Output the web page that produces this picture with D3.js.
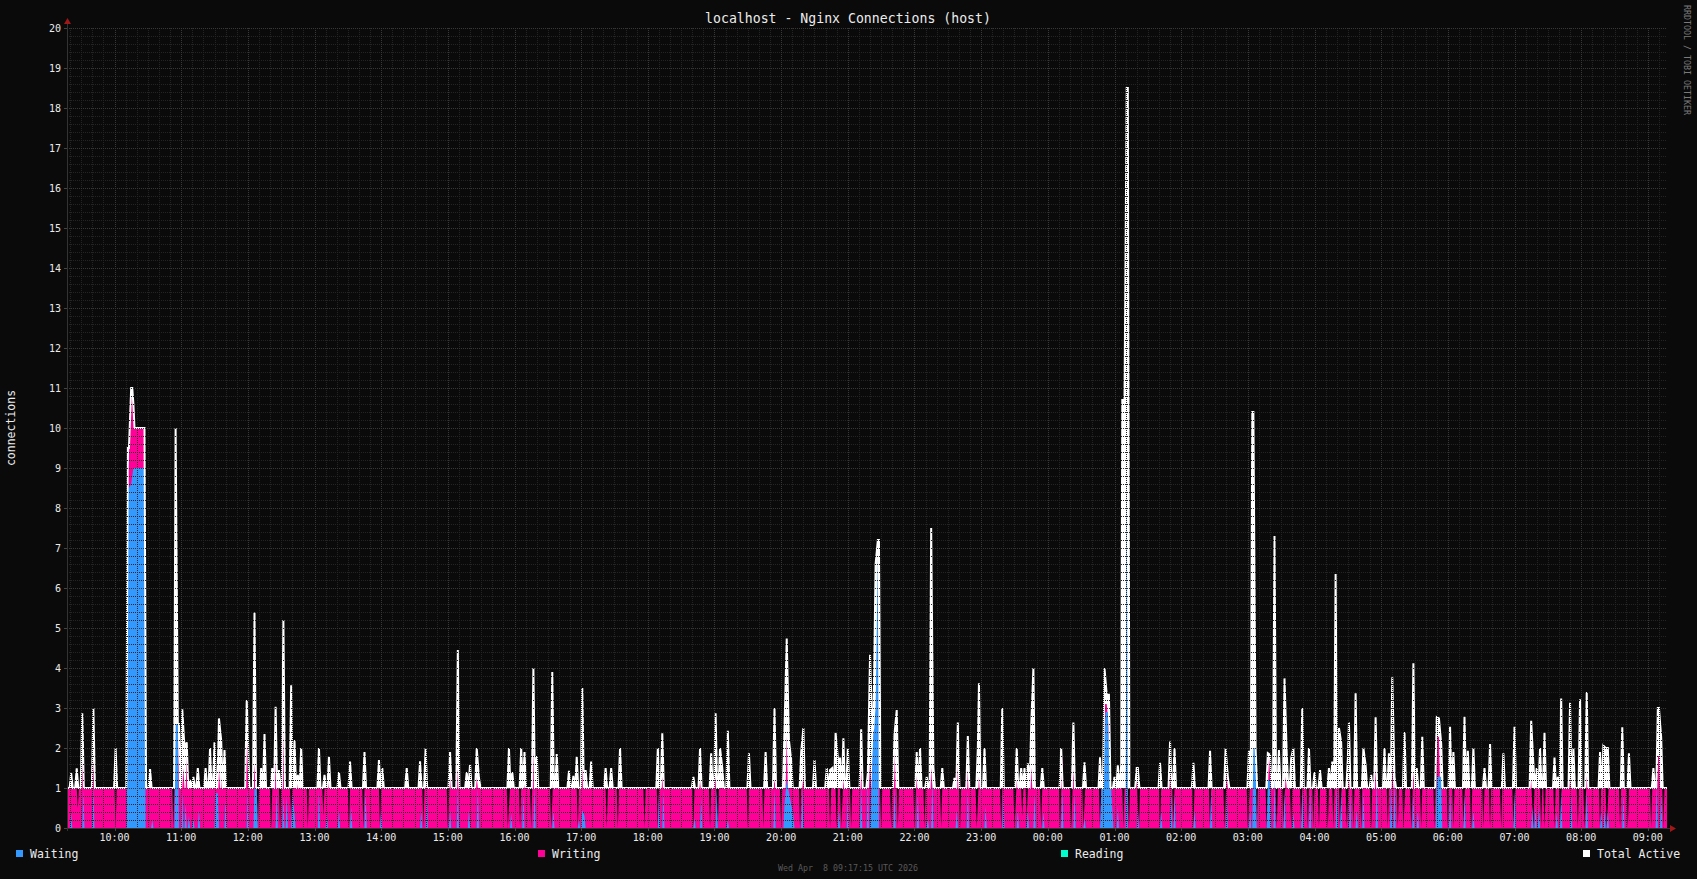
<!DOCTYPE html>
<html><head><meta charset="utf-8">
<script src="https://cdn.jsdelivr.net/npm/d3@7"></script>
<style>html,body{margin:0;padding:0;background:#0a0a0a;}svg{display:block}text{white-space:pre}</style>
</head><body>
<svg id="chart" width="1697" height="879"></svg>
<script>
// ---------- data ----------
const chartTitle = "localhost - Nginx Connections (host)";
const yAxisLabel = "connections";
const watermark = "RRDTOOL / TOBI OETIKER";
const stampText = "Wed Apr  8 09:17:15 UTC 2026";
const startTime = "2026-04-07T09:17:15Z";
const endTime = "2026-04-08T09:17:15Z";
const yTickValues = [0,1,2,3,4,5,6,7,8,9,10,11,12,13,14,15,16,17,18,19,20];
const hourLabels = ["10:00","11:00","12:00","13:00","14:00","15:00","16:00","17:00","18:00","19:00","20:00","21:00","22:00","23:00","00:00","01:00","02:00","03:00","04:00","05:00","06:00","07:00","08:00","09:00"];
const legendNames = ["Waiting","Writing","Reading","Total Active"];
const legendColors = ["#3399ff","#ff0099","#00ffcc","#ffffff"];

// Total Active: baseline 1, samples that differ from it
const totalBase = 1;
const totalTimes = ["09:21","09:26","09:31","09:41","10:01","10:12","10:13","10:15","10:16","10:17","10:18","10:20","10:22","10:24","10:26","10:27","10:32","10:55","10:57","10:58","11:01","11:03","11:05","11:08","11:11","11:15","11:22","11:26","11:30","11:34","11:36","11:39","11:59","12:00","12:06","12:12","12:15","12:22","12:25","12:28","12:32","12:39","12:42","12:45","12:48","13:04","13:09","13:13","13:22","13:32","13:45","13:58","14:01","14:23","14:35","14:40","15:02","15:09","15:17","15:20","15:26","15:28","15:55","15:58","16:06","16:09","16:17","16:20","16:34","16:38","16:49","16:53","16:56","17:01","17:04","17:09","17:22","17:27","17:35","18:09","18:13","18:41","18:47","18:57","19:01","19:05","19:07","19:12","19:31","19:46","19:54","20:03","20:05","20:07","20:09","20:18","20:20","20:30","20:41","20:44","20:46","20:49","20:51","20:53","20:56","21:00","21:12","21:18","21:20","21:22","21:23","21:25","21:27","21:28","21:42","21:44","22:02","22:05","22:11","22:15","22:17","22:25","22:36","22:39","22:48","22:57","22:58","23:03","23:19","23:32","23:36","23:39","23:42","23:45","23:47","23:55","00:12","00:23","00:33","00:47","00:51","00:53","00:55","01:00","01:03","01:06","01:07","01:09","01:11","01:12","01:20","01:21","01:41","01:50","01:54","02:11","02:26","02:40","02:42","03:01","03:04","03:05","03:07","03:18","03:20","03:24","03:28","03:33","03:35","03:39","03:41","03:49","03:55","04:00","04:05","04:13","04:16","04:19","04:22","04:24","04:30","04:31","04:37","04:44","04:46","04:51","04:55","05:03","05:07","05:10","05:12","05:21","05:29","05:32","05:37","05:50","05:52","05:54","06:02","06:05","06:15","06:18","06:23","06:33","06:38","06:50","07:00","07:15","07:17","07:20","07:23","07:27","07:36","07:39","07:42","07:50","07:53","07:59","08:05","08:17","08:20","08:22","08:24","08:37","08:43","09:05","09:09","09:10","09:12"];
const totalValues = [1.37,1.49,2.87,3.0,2.0,9.5,9.5,11.0,11.0,10.6,10.0,10.0,10.0,10.0,10.0,10.0,1.47,10.0,2.6,2.6,2.97,2.0,2.14,1.2,1.28,1.5,1.5,2.0,2.14,2.74,2.2,1.95,3.2,2.33,5.39,1.5,2.35,1.5,3.03,1.45,5.2,3.57,2.2,1.33,2.0,2.0,1.33,1.78,1.4,1.66,1.9,1.7,1.5,1.5,1.67,2.0,1.9,4.45,1.4,1.6,2.0,1.25,2.0,1.4,2.0,1.9,4.0,1.8,3.9,1.85,1.43,1.3,1.78,3.5,1.45,1.66,1.5,1.5,2.0,2.0,2.37,1.28,2.0,1.87,2.87,2.0,1.5,2.43,1.87,1.9,3.0,2.5,4.74,2.2,1.7,1.9,2.5,1.7,1.5,1.45,1.5,2.38,1.74,1.74,2.24,2.0,2.47,1.37,4.33,2.4,2.5,6.6,7.2,7.2,2.35,2.95,1.9,2.0,1.28,7.5,1.53,1.5,1.25,2.64,2.3,2.0,3.62,2.0,3.0,2.0,1.5,1.5,1.62,2.53,4.0,1.5,2.0,2.64,1.64,1.77,4.0,3.33,3.33,1.28,1.57,1.57,10.7,10.7,18.5,18.5,1.5,1.5,1.63,2.16,2.0,1.63,1.93,2.0,1.28,1.93,10.4,10.4,2.0,1.87,1.83,7.3,1.95,3.74,1.87,1.74,2.0,3.0,2.0,1.4,1.45,1.5,1.66,6.35,2.5,2.14,1.72,2.64,3.37,2.0,1.57,1.33,2.77,2.0,1.87,3.77,1.28,2.4,4.12,1.5,2.28,2.77,2.74,2.12,2.53,1.9,2.78,1.93,2.0,1.5,2.1,1.87,2.53,2.68,1.6,1.5,2.0,2.38,1.76,1.28,3.24,3.13,2.0,3.22,3.4,1.9,2.06,2.0,2.0,2.52,1.87,1.5,3.0,3.0,2.27];

// Writing: baseline 1
const writingBase = 1;
const writingTimes = ["09:27","09:31","09:41","10:01","10:12","10:13","10:15","10:16","10:17","10:18","10:20","10:22","10:24","10:26","10:27","10:53","10:57","11:02","11:05","11:34","11:37","11:59","12:00","12:06","12:09","12:21","12:25","12:29","12:32","12:39","12:44","12:54","13:08","13:12","13:31","13:44","13:59","14:38","14:41","15:00","15:02","15:09","15:26","15:54","15:56","16:05","16:08","16:15","16:17","16:33","16:35","16:57","17:01","17:23","17:33","17:57","18:09","18:13","18:41","18:47","18:56","19:01","19:03","19:30","19:44","19:54","20:00","20:05","20:17","20:20","20:44","20:50","20:54","20:56","21:03","21:12","21:20","21:23","21:26","21:30","21:39","21:42","21:45","22:00","22:02","22:09","22:15","22:24","22:39","22:41","22:48","22:56","22:58","23:18","23:30","23:32","23:37","23:41","23:45","23:54","00:11","00:13","00:21","00:23","00:32","00:34","00:47","00:51","00:53","00:55","01:08","01:13","01:20","01:22","01:41","01:50","01:53","02:11","02:26","02:39","02:41","03:00","03:02","03:08","03:17","03:19","03:21","03:26","03:32","03:34","03:39","03:48","03:54","03:59","04:04","04:12","04:17","04:23","04:25","04:29","04:31","04:35","04:42","04:51","04:55","05:06","05:10","05:15","05:20","05:22","05:27","05:29","05:36","05:48","05:50","05:52","06:00","06:05","06:14","06:16","06:21","06:32","06:38","06:48","06:59","07:01","07:15","07:17","07:24","07:27","07:36","07:41","07:43","07:50","07:57","08:03","08:05","08:17","08:23","08:25","08:35","08:42","09:03","09:09","09:10","09:14"];
const writingValues = [0.5,1.8,2.0,0,9.0,9.3,10.8,10.8,10.4,10.0,10.0,10.0,10.0,10.0,10.0,0,2.8,1.5,1.8,1.5,1.4,2.2,2.2,1.6,0,0,3.0,0,3.0,0.2,1.2,0,0.3,1.2,0,0,0,0,1.1,0,1.4,1.5,1.28,0,1.05,0,1.2,0,2.1,0,1.37,0,1.53,0,0,0,0,1.28,0,1.2,0,1.28,0,0,0,1.2,0,2.3,0,1.28,0,0,0,1.2,0,2.0,1.66,2.45,2.45,0,0,2.2,0,0,1.53,0,1.5,0,2.0,0,1.8,0,1.28,0,0,1.2,0.3,0.3,1.5,0,0,1.8,0,1.53,0,1.2,0,3.1,3.1,2.5,0,0,1.2,0,0,1.7,0,0,0,0,1.4,0,1.2,0,0,1.78,1.45,0,0,1.28,0,0,0,0,0,0,0,0,1.4,0,1.28,0,0,0,1.5,0,1.53,0,0,1.2,0,1.4,0,0,2.28,2.28,0,0,0,1.4,0,0,0,0,0,1.1,1.2,0,0,0,0,0,1.37,1.28,0,0,1.3,0,0,1.2,0,0,0,1.8,1.8,0];

// Waiting: baseline 0
const waitingBase = 0;
const waitingTimes = ["09:21","09:32","09:41","10:12","10:13","10:15","10:17","10:18","10:20","10:22","10:24","10:26","10:27","10:34","10:55","10:57","11:01","11:04","11:07","11:11","11:16","11:31","11:33","11:40","12:00","12:06","12:08","12:26","12:32","12:35","12:40","12:42","13:04","13:11","13:22","13:33","13:46","14:00","14:36","14:41","15:02","15:09","15:19","15:27","15:57","16:08","16:18","16:35","16:58","17:01","17:03","18:10","18:14","18:42","18:48","19:02","19:12","19:54","20:03","20:05","20:07","20:09","20:11","20:19","20:52","21:00","21:12","21:18","21:21","21:23","21:25","21:27","21:42","22:03","22:12","22:16","22:38","22:48","23:04","23:20","23:33","23:42","23:48","23:56","00:13","00:24","00:33","00:48","00:50","00:52","00:54","00:56","00:58","01:03","01:11","01:21","01:42","01:51","01:54","02:12","02:27","02:41","03:02","03:05","03:07","03:18","03:20","03:24","03:33","03:41","03:49","03:56","04:20","04:24","04:32","04:38","04:44","04:56","05:09","05:12","05:29","05:33","05:50","05:52","05:54","06:02","06:15","06:23","07:00","07:16","07:19","07:22","07:38","07:42","07:51","08:05","08:18","08:21","08:24","08:38","09:08","09:12"];
const waitingValues = [0.37,0.95,1.0,8.8,8.5,8.6,9.0,9.0,9.0,9.0,9.0,9.0,9.0,0.2,2.6,2.6,0.9,0.6,0.3,0.25,0.45,0.87,0.87,0.7,0.95,1.0,1.0,0.87,0.8,0.8,0.87,0.37,0.95,0.37,0.45,0.53,0.95,0.45,0.45,1.0,0.45,1.0,0.45,1.0,0.37,0.87,1.0,0.45,0.2,0.45,0.3,0.87,0.95,0.25,0.75,1.0,0.2,0.97,0.6,1.2,0.9,0.6,0.3,1.0,0.45,0.8,1.1,1.2,0.87,2.4,3.0,6.8,1.0,0.9,0.25,1.24,0.45,0.95,0.53,0.95,0.45,0.45,0.87,0.4,0.95,0.87,0.25,0.8,2.0,2.9,2.9,1.5,0.5,0.53,9.0,0.5,0.45,0.87,0.87,0.45,0.95,0.87,0.45,2.0,2.0,1.2,1.2,1.2,0.95,0.37,0.95,0.95,1.0,0.95,0.87,0.45,0.95,1.2,1.2,1.2,0.87,0.45,1.28,1.28,1.28,0.87,0.87,0.45,0.95,0.53,0.53,0.53,0.37,0.95,0.87,0.95,0.45,0.45,0.45,0.87,1.03,0.87];

// Reading: no visible samples
const readingBase = 0;
const readingTimes = [];
const readingValues = [];

// ---------- drawing ----------
const W = 1697, H = 879;
const L = 67, R = 1667, T = 28, B = 828;
const svg = d3.select("#chart");
const mono = "'DejaVu Sans Mono', 'Liberation Mono', monospace";

svg.append("rect").attr("width", W).attr("height", H).attr("fill", "#0a0a0a");

const t0 = new Date(startTime), t1 = new Date(endTime);
const x = d3.scaleUtc().domain([t0, t1]).range([L, R]);
const y = d3.scaleLinear().domain([0, 20]).range([B, T]);

function parseClock(s) {
  const [h, m] = s.split(":").map(Number);
  const day = (h * 60 + m) >= (9 * 60 + 17) ? 7 : 8;
  return new Date(Date.UTC(2026, 3, day, h, m, 0));
}
// each sample occupies a short interval around its timestamp
function buildSeries(times, values, base, halfMin) {
  const hw = halfMin * 60000;
  const pts = times.map((s, i) => ({ t: +parseClock(s), v: values[i] })).sort((a, b) => a.t - b.t);
  const out = [{ t: +t0, v: base }];
  let prev = null;
  pts.forEach(p => {
    if (prev === null || p.t - prev.t > 2 * hw) {
      if (prev !== null) out.push({ t: prev.t + hw, v: base });
      out.push({ t: p.t - hw, v: base });
    }
    out.push(p);
    prev = p;
  });
  if (prev) out.push({ t: prev.t + hw, v: base });
  out.push({ t: +t1, v: base });
  return out;
}

const totalS = buildSeries(totalTimes, totalValues, totalBase, 1.4);
const writingS = buildSeries(writingTimes, writingValues, writingBase, 1.0);
const waitingS = buildSeries(waitingTimes, waitingValues, waitingBase, 1.0);
const readingS = buildSeries(readingTimes, readingValues, readingBase, 1.0);

svg.append("defs").append("clipPath").attr("id", "plotclip")
  .append("rect").attr("x", L).attr("y", T - 2).attr("width", R - L).attr("height", B - T + 2);

const plot = svg.append("g").attr("clip-path", "url(#plotclip)");

plot.append("path").datum(totalS)
  .attr("fill", "#ffffff")
  .attr("d", d3.area().x(d => x(d.t)).y0(y(totalBase)).y1(d => y(Math.max(totalBase, d.v))));
plot.append("path").datum(writingS)
  .attr("fill", legendColors[1])
  .attr("d", d3.area().x(d => x(d.t)).y0(y(0)).y1(d => y(d.v)));
plot.append("path").datum(waitingS)
  .attr("fill", legendColors[0])
  .attr("d", d3.area().x(d => x(d.t)).y0(y(0)).y1(d => y(d.v)));
plot.append("path").datum(readingS)
  .attr("fill", legendColors[2])
  .attr("d", d3.area().x(d => x(d.t)).y0(y(0)).y1(d => y(d.v)));
plot.append("path").datum(totalS)
  .attr("fill", "none").attr("stroke", "#ffffff").attr("stroke-width", 2)
  .attr("d", d3.line().x(d => x(d.t)).y(d => y(d.v)));

// ---------- grid (drawn over data, rrdtool style) ----------
const grid = svg.append("g").attr("shape-rendering", "crispEdges");
const minorColor = "#242424", majorColor = "#383838";
const minorY = d3.range(0, 100).map(i => i * 0.2).filter(v => Math.abs(v - Math.round(v)) > 1e-6);
grid.selectAll("line.hmin").data(minorY).join("line")
  .attr("x1", L).attr("x2", R)
  .attr("y1", d => Math.round(y(d)) + 0.5).attr("y2", d => Math.round(y(d)) + 0.5)
  .attr("stroke", minorColor).attr("stroke-dasharray", "1,1");
const minorX = d3.utcMinute.every(10).range(t0, t1).filter(d => d.getUTCMinutes() !== 0);
grid.selectAll("line.vmin").data(minorX).join("line")
  .attr("x1", d => Math.round(x(d)) + 0.5).attr("x2", d => Math.round(x(d)) + 0.5)
  .attr("y1", T).attr("y2", B)
  .attr("stroke", minorColor).attr("stroke-dasharray", "1,1");
grid.selectAll("line.hmaj").data(yTickValues.filter(v => v > 0)).join("line")
  .attr("x1", L).attr("x2", R)
  .attr("y1", d => Math.round(y(d)) + 0.5).attr("y2", d => Math.round(y(d)) + 0.5)
  .attr("stroke", majorColor).attr("stroke-dasharray", "1,1");
const hours = d3.utcHour.range(t0, t1);
grid.selectAll("line.vmaj").data(hours).join("line")
  .attr("x1", d => Math.round(x(d)) + 0.5).attr("x2", d => Math.round(x(d)) + 0.5)
  .attr("y1", T).attr("y2", B)
  .attr("stroke", majorColor).attr("stroke-dasharray", "1,1");

grid.append("line").attr("x1", L + 0.5).attr("x2", L + 0.5).attr("y1", T - 4).attr("y2", B + 3).attr("stroke", "#333");
grid.append("line").attr("x1", L - 3).attr("x2", R + 3).attr("y1", B + 0.5).attr("y2", B + 0.5).attr("stroke", "#333");
grid.selectAll("line.xt").data(hours).join("line")
  .attr("x1", d => Math.round(x(d)) + 0.5).attr("x2", d => Math.round(x(d)) + 0.5)
  .attr("y1", B).attr("y2", B + 3).attr("stroke", "#444");
grid.selectAll("line.yt").data(yTickValues).join("line")
  .attr("x1", L - 3).attr("x2", L)
  .attr("y1", d => Math.round(y(d)) + 0.5).attr("y2", d => Math.round(y(d)) + 0.5)
  .attr("stroke", "#444");
svg.append("path").attr("d", `M${L - 3},${T - 4} L${L + 4},${T - 4} L${L + 0.5},${T - 10} Z`).attr("fill", "#a01818");
svg.append("path").attr("d", `M${R + 3},${B - 3} L${R + 3},${B + 4} L${R + 9},${B + 0.5} Z`).attr("fill", "#a01818");

// ---------- labels ----------
const textColor = "#ececec";
svg.selectAll("text.yl").data(yTickValues).join("text")
  .attr("x", 61).attr("y", d => y(d) + 3.5)
  .attr("text-anchor", "end").attr("fill", textColor)
  .attr("font-family", mono).attr("font-size", "10px")
  .text(d => d);

svg.selectAll("text.xl").data(hours).join("text")
  .attr("x", d => x(d)).attr("y", 840.5)
  .attr("text-anchor", "middle").attr("fill", textColor)
  .attr("font-family", mono).attr("font-size", "10px")
  .text((d, i) => hourLabels[i]);

svg.append("text").attr("x", 848).attr("y", 23)
  .attr("text-anchor", "middle").attr("fill", textColor)
  .attr("font-family", mono).attr("font-size", "13.2px")
  .text(chartTitle);

svg.append("text").attr("transform", "translate(15,428) rotate(-90)")
  .attr("text-anchor", "middle").attr("fill", textColor)
  .attr("font-family", mono).attr("font-size", "11.5px")
  .text(yAxisLabel);

svg.append("text").attr("transform", "translate(1684,5) rotate(90)")
  .attr("text-anchor", "start").attr("fill", "#7a7a7a")
  .attr("font-family", mono).attr("font-size", "8.3px")
  .text(watermark);

svg.append("text").attr("x", 848).attr("y", 871)
  .attr("text-anchor", "middle").attr("fill", "#5a5a5a")
  .attr("font-family", mono).attr("font-size", "8.3px")
  .text(stampText);

const legendX = [16, 538, 1061, 1583];
const lg = svg.selectAll("g.lg").data(legendNames).join("g")
  .attr("transform", (d, i) => `translate(${legendX[i]},850)`);
lg.append("rect").attr("width", 7).attr("height", 7).attr("fill", (d, i) => legendColors[i]);
lg.append("text").attr("x", 14).attr("y", 8)
  .attr("fill", textColor).attr("font-family", mono).attr("font-size", "11.5px")
  .text(d => d);
</script>
</body></html>
